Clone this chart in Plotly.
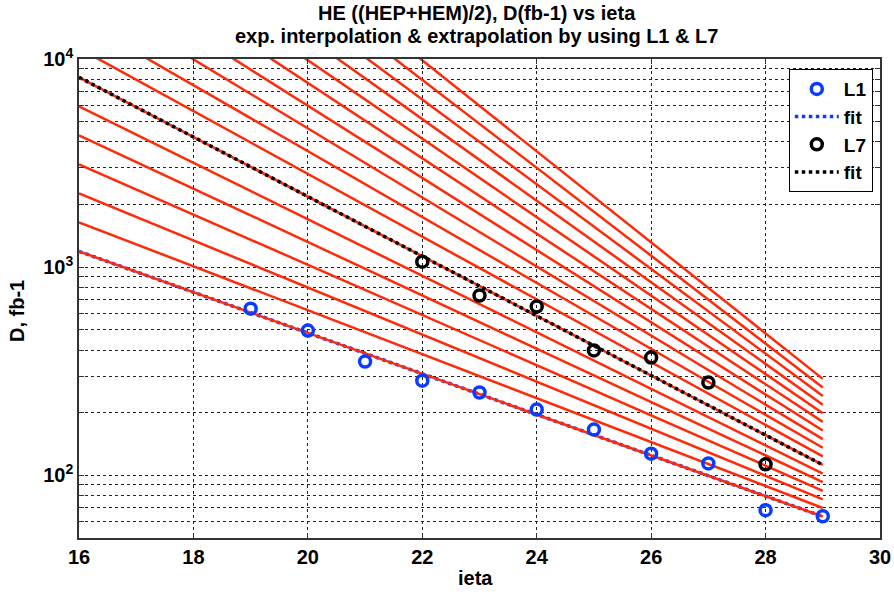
import plotly.graph_objects as go
import numpy as np

# ---- data ----
ieta_L1 = [19, 20, 21, 22, 23, 24, 25, 26, 27, 28, 29]
D_L1 = [632, 496, 352, 285, 250, 207, 166, 127, 114, 68, 63.6]

ieta_L7 = [22, 23, 24, 25, 26, 27, 28]
D_L7 = [1062, 730, 647, 398, 368, 279, 113]

fit_x = [16, 29]
fit_L1 = [1191, 63.4]
fit_L7 = [8166, 112.2]

# exp. interpolation / extrapolation lines (layers 1..17): values at ieta 16 and 29
layer_start = [1191, 1642, 2263, 3119, 4298, 5925, 8166, 11255, 15512, 21380,
               29465, 40612, 55976, 77146, 106330, 146555, 201990]
layer_end = [63.4, 69.7, 76.7, 84.3, 92.8, 102.0, 112.2, 123.4, 135.7, 149.3,
             164.2, 180.6, 198.6, 218.4, 240.3, 264.2, 290.6]

x_ticks = [16, 18, 20, 22, 24, 26, 28, 30]
y_grid = [50, 60, 70, 80, 90, 100, 200, 300, 400, 500, 600, 700, 800, 900,
          1000, 2000, 3000, 4000, 5000, 6000, 7000, 8000, 9000, 10000]
y_labels = {100: "10<sup>2</sup>", 1000: "10<sup>3</sup>", 10000: "10<sup>4</sup>"}

title_lines = ["HE ((HEP+HEM)/2), D(fb-1) vs ieta",
               "exp. interpolation & extrapolation by using L1 & L7"]

FONT = "Arial, Liberation Sans, sans-serif"
RED = "#ff2a0a"
BLUE = "#0a3cff"

fig = go.Figure()

fig.add_trace(go.Scatter(x=fit_x, y=fit_L1, mode="lines", name="fit",
                         line=dict(color=BLUE, width=3.5, dash="dot"), legendrank=2))

for s, e in zip(layer_start, layer_end):
    fig.add_trace(go.Scatter(x=fit_x, y=[s, e], mode="lines", showlegend=False,
                             line=dict(color=RED, width=2.5), hoverinfo="skip"))

fig.add_trace(go.Scatter(x=fit_x, y=fit_L7, mode="lines", name="fit",
                         line=dict(color="black", width=3.5, dash="dot"), legendrank=4))

fig.add_trace(go.Scatter(x=ieta_L1, y=D_L1, mode="markers", name="L1",
                         marker=dict(symbol="circle-open", color=BLUE, size=11,
                                     line=dict(width=3.5, color=BLUE)), legendrank=1))
fig.add_trace(go.Scatter(x=ieta_L7, y=D_L7, mode="markers", name="L7",
                         marker=dict(symbol="circle-open", color="black", size=11,
                                     line=dict(width=3.5, color="black")), legendrank=3))

H = 594
W = 894
annots = [
    dict(text="<b>" + title_lines[0] + "</b>", x=477 / W, y=1 - 13 / H),
    dict(text="<b>" + title_lines[1] + "</b>", x=477 / W, y=1 - 36 / H),
    dict(text="<b>ieta</b>", x=475 / W, y=1 - 578 / H),
    dict(text="<b>D, fb-1</b>", x=17 / W, y=1 - 311 / H, textangle=-90),
]
for a in annots:
    fig.add_annotation(xref="paper", yref="paper", xanchor="center", yanchor="middle",
                       showarrow=False, font=dict(size=20, family=FONT, color="black"),
                       **{k: v for k, v in a.items()})

# convert annotation positions from figure-fraction to container via layout domain trick
L, R, T, B = 79, 14, 59, 56
pw, ph = W - L - R, H - T - B
for ann in fig.layout.annotations:
    px = ann.x * W
    py = (1 - ann.y) * H
    ann.x = (px - L) / pw
    ann.y = (H - B - py) / ph

fig.update_layout(
    width=W, height=H,
    margin=dict(l=L, r=R, t=T, b=B, autoexpand=False),
    paper_bgcolor="white", plot_bgcolor="white",
    font=dict(family=FONT, color="black"),
    showlegend=True,
    legend=dict(x=0.991, xanchor="right", y=0.979, yanchor="top",
                bgcolor="white", bordercolor="black", borderwidth=1,
                font=dict(size=19, family=FONT, color="black", weight="bold"),
                traceorder="normal", itemwidth=44, tracegroupgap=0),
)

fig.update_xaxes(
    range=[16, 30], tickvals=x_ticks, ticktext=[str(v) for v in x_ticks],
    showline=True, linecolor="#333333", linewidth=1.5, mirror="ticks",
    ticks="inside", ticklen=5, tickcolor="#333333",
    showgrid=True, gridcolor="#222222", gridwidth=1, griddash="3px,3px",
    zeroline=False, automargin=False,
    tickfont=dict(size=20, family=FONT, weight="bold"),
)

fig.update_yaxes(
    type="log", range=[np.log10(50), 4],
    tickvals=y_grid, ticktext=[y_labels.get(v, "") for v in y_grid],
    showline=True, linecolor="#333333", linewidth=1.5, mirror="ticks",
    ticks="inside", ticklen=5, tickcolor="#333333",
    showgrid=True, gridcolor="#222222", gridwidth=1, griddash="3px,3px",
    zeroline=False, automargin=False,
    tickfont=dict(size=20, family=FONT, weight="bold"),
)

fig.write_html("out.html")
